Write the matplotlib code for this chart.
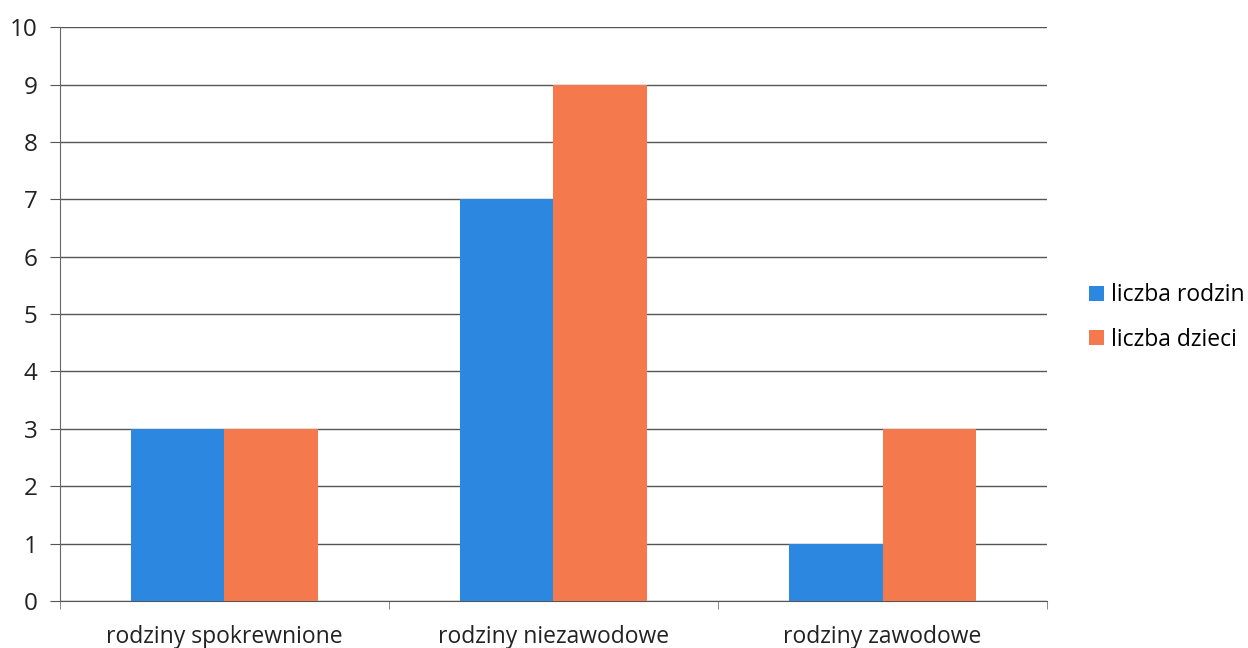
import matplotlib.pyplot as plt
import numpy as np

# dane
kategorie = ['rodziny spokrewnione', 'rodziny niezawodowe', 'rodziny zawodowe']
liczba_rodzin = [3, 7, 1]
liczba_dzieci = [3, 9, 3]

plt.rcParams['font.family'] = ['Open Sans', 'DejaVu Sans']

fig = plt.figure(figsize=(12.48, 6.48), dpi=100)
ax = fig.add_axes([0.048, 0.0725, 0.791, 0.8855])

x = np.arange(len(kategorie))
w = 0.283
ax.bar(x - w / 2, liczba_rodzin, w, color='#2B87DF', label='liczba rodzin', zorder=3)
ax.bar(x + w / 2, liczba_dzieci, w, color='#F47A4D', label='liczba dzieci', zorder=3)

ax.set_xlim(-0.5, len(kategorie) - 0.5)
ax.set_ylim(0, 10)
ax.set_yticks(range(0, 11))
ax.yaxis.grid(True, color='#555555', linewidth=1.0, zorder=0)

# osie
for s in ['top', 'right']:
    ax.spines[s].set_visible(False)
ax.spines['left'].set_color('#666666')
ax.spines['bottom'].set_color('#555555')

ax.set_xticks(x)
ax.set_xticklabels(kategorie, fontsize=16.5, color='#222222')
ax.tick_params(axis='x', length=0, pad=17)
ax.set_xticks(np.arange(-0.5, len(kategorie)), minor=True)
ax.tick_params(axis='x', which='minor', length=6, color='#777777')
ax.tick_params(axis='y', length=7, color='#555555', labelsize=17.5, labelcolor='#222222', pad=9)

fig.legend(loc='center left', bbox_to_anchor=(0.856, 0.51), frameon=False,
           fontsize=16.5, handlelength=0.65, handleheight=0.65, handletextpad=0.3,
           labelspacing=0.9)

plt.savefig('out.png', dpi=100)
